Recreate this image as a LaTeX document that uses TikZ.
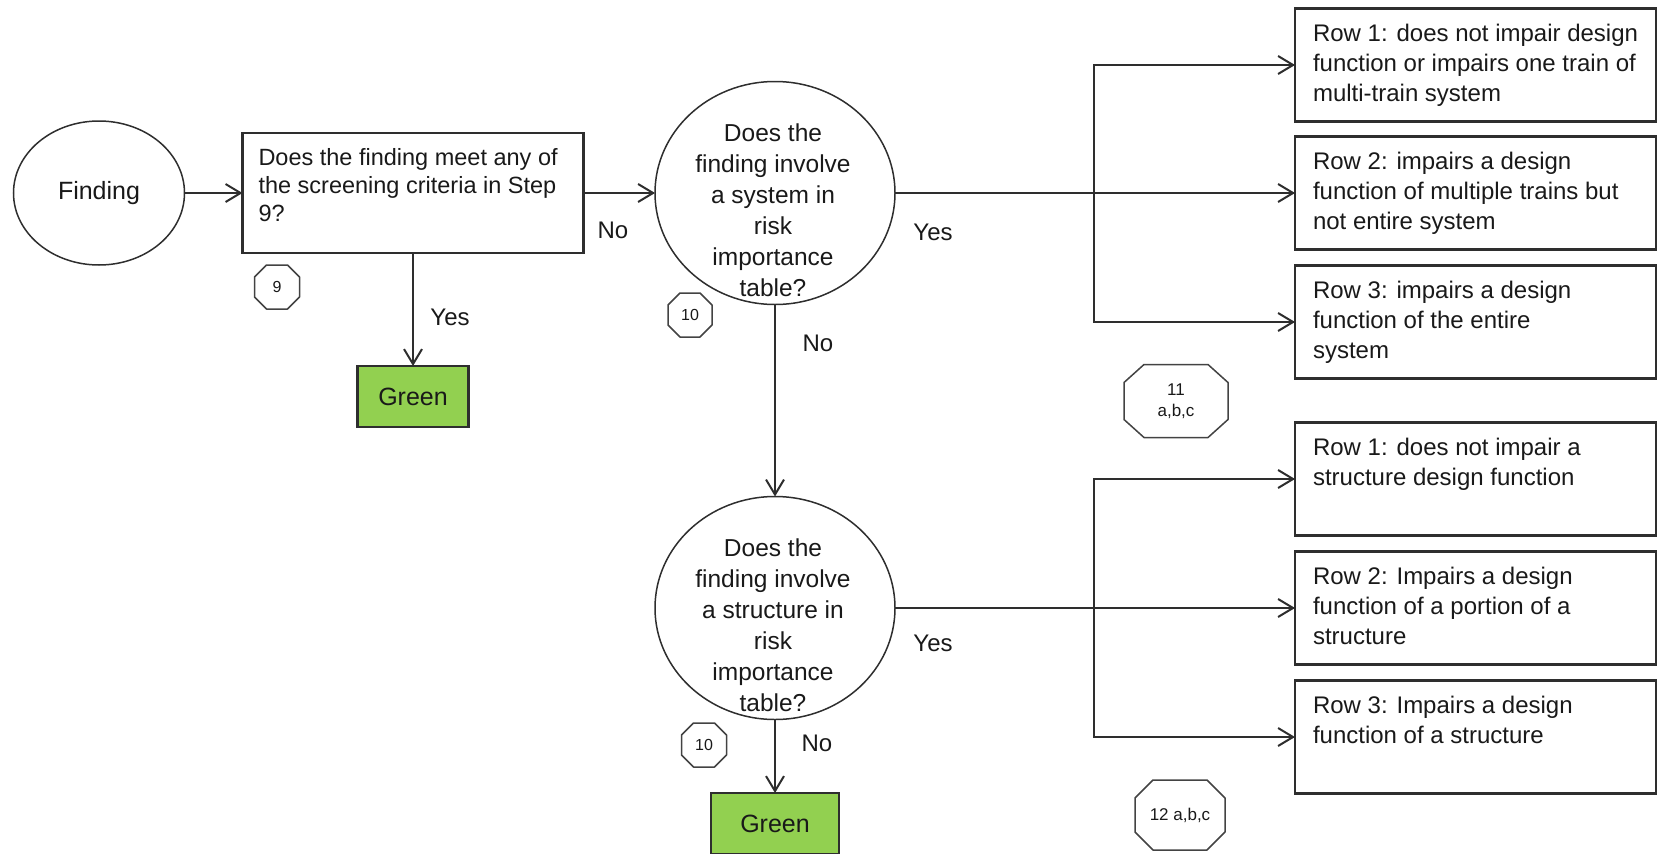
\documentclass[tikz,border=0pt]{standalone}
\usepackage{fontspec}
\setmainfont{Liberation Sans}
\usetikzlibrary{shapes.geometric,arrows.meta}
\definecolor{okgreen}{HTML}{92D050}
\definecolor{inkgray}{HTML}{2E2E2E}
\newcommand{\octframe}[3]{%
  \draw[octline] ([xshift=#2]#1.north west) -- ([xshift=-#2]#1.north east)
    -- ([yshift=-#3]#1.north east) -- ([yshift=#3]#1.south east)
    -- ([xshift=-#2]#1.south east) -- ([xshift=#2]#1.south west)
    -- ([yshift=#3]#1.south west) -- ([yshift=-#3]#1.north west) -- cycle;}

\begin{document}
\begin{tikzpicture}[x=1pt,y=-1pt,
    every node/.style={inner sep=0pt,outer sep=0pt,text=black!90},
    oval/.style={ellipse,draw=inkgray,line width=1.5pt},
    qbox/.style={rectangle,draw=inkgray,line width=2.2pt},
    rowbox/.style={qbox,minimum width=361pt,minimum height=113pt},
    greenbox/.style={qbox,fill=okgreen,minimum height=61pt,font=\fontsize{25}{30}\selectfont},
    stepno/.style={rectangle,align=center,font=\fontsize{16}{19}\selectfont},
    octline/.style={draw=inkgray!90,line width=1.5pt,line join=round},
    boxtext/.style={anchor=north west,align=left,font=\fontsize{24}{30}\selectfont},
    qtext/.style={align=center,font=\fontsize{24.5}{31}\selectfont},
    lbl/.style={font=\fontsize{24}{28}\selectfont},
    conn/.style={draw=inkgray,line width=2pt},
    arr/.style={conn,-{Straight Barb[length=15pt,width=18pt]}}]
  \useasboundingbox (0,0) rectangle (1663,854);

  \node[oval,minimum width=171pt,minimum height=144pt,font=\fontsize{25}{30}\selectfont] (find) at (99,193) {Finding};
  \node[qbox,minimum width=341pt,minimum height=120pt] (q1) at (413,193) {};
  \node[boxtext,font=\fontsize{23.5}{28}\selectfont] (q1t) at ([shift={(16,15)}]q1.north west) {Does the finding meet any of\\the screening criteria in Step\\9?};
  \node[greenbox,minimum width=111pt] (g1) at (413,396.5) {Green};

  \node[oval,minimum width=240pt,minimum height=223pt] (c1) at (775,193) {};
  \node[qtext] (c1t) at (773,210) {Does the\\finding involve\\a system in\\risk\\importance\\table?};
  \node[oval,minimum width=240pt,minimum height=223pt] (c2) at (775,608) {};
  \node[qtext] (c2t) at (773,625) {Does the\\finding involve\\a structure in\\risk\\importance\\table?};
  \node[greenbox,minimum width=128pt] (g2) at (775,823.5) {Green};

  \foreach \n/\y/\txt in {A/65/{Row 1: does not impair design\\function or impairs one train of\\multi-train system},
      B/193/{Row 2: impairs a design\\function of multiple trains but\\not entire system},
      C/322/{Row 3: impairs a design\\function of the entire\\system},
      D/479/{Row 1: does not impair a\\structure design function},
      E/608/{Row 2: Impairs a design\\function of a portion of a\\structure},
      F/737/{Row 3: Impairs a design\\function of a structure}}
  {
    \node[rowbox] (r\n) at (1475.5,\y) {};
    \node[boxtext] (t\n) at ([shift={(18,16)}]r\n.north west) {\txt};
  }

  \node[stepno,minimum width=45pt,minimum height=44pt] (s9) at (277,287) {9};
  \node[stepno,minimum width=44pt,minimum height=44pt] (s10a) at (690,315) {10};
  \node[stepno,minimum width=45pt,minimum height=44pt] (s10b) at (704,745) {10};
  \node[stepno,minimum width=104pt,minimum height=73pt,font=\fontsize{17}{21}\selectfont] (s11) at (1176,401) {11\\a,b,c};
  \node[stepno,minimum width=90pt,minimum height=70pt,font=\fontsize{17}{20}\selectfont] (s12) at (1180,815) {12 a,b,c};
  \octframe{s9}{12pt}{12pt}
  \octframe{s10a}{12pt}{12pt}
  \octframe{s10b}{12pt}{12pt}
  \octframe{s11}{20pt}{18pt}
  \octframe{s12}{18pt}{18pt}

  \node[lbl] (no1) at (613,230) {No};
  \node[lbl] (yes1) at (450,317) {Yes};
  \node[lbl] (yes2) at (933,232) {Yes};
  \node[lbl] (no2) at (818,343) {No};
  \node[lbl] (yes3) at (933,643) {Yes};
  \node[lbl] (no3) at (817,743) {No};

  \coordinate (j1) at (1094,193);
  \coordinate (j2) at (1094,608);

  \draw[arr] (find.east) -- (q1.west);
  \draw[arr] (q1.east) -- (c1.west);
  \draw[arr] (q1.south) -- (g1.north);
  \draw[arr] (c1.south) -- (c2.north);
  \draw[arr] (c2.south) -- (g2.north);
  \draw[conn,line width=2.8pt] (c1.east) -- (j1);
  \draw[arr] (j1) -- (rB.west);
  \draw[arr] (j1) |- (rA.west);
  \draw[arr] (j1) |- (rC.west);
  \draw[conn,line width=2.8pt] (c2.east) -- (j2);
  \draw[arr] (j2) -- (rE.west);
  \draw[arr] (j2) |- (rD.west);
  \draw[arr] (j2) |- (rF.west);
\end{tikzpicture}
\end{document}
